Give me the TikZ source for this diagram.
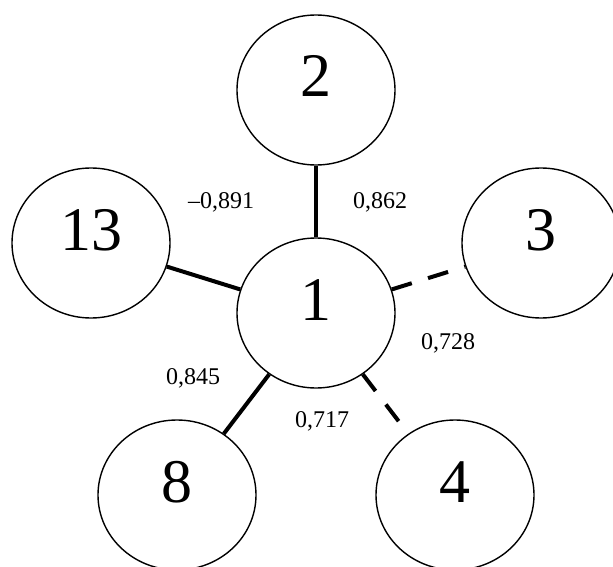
\documentclass[tikz,border=0pt]{standalone}
\usepackage{fontspec}
\setmainfont{Liberation Serif}
\usetikzlibrary{shapes.geometric}

\tikzset{
  vertex/.style={draw, ellipse, line width=1.4pt, minimum width=158pt, minimum height=150pt,
    inner sep=0pt, font=\fontsize{62}{62}\selectfont, text height=42pt, text depth=28pt},
  link/.style={line width=4pt},
  dlink/.style={line width=4pt, dash pattern=on 21pt off 17pt},
  weight/.style={font=\fontsize{24}{24}\selectfont, inner sep=0pt}
}

\begin{document}
\begin{tikzpicture}[x=1pt, y=-1pt]

    \useasboundingbox (0,0) rectangle (613,567);
    \clip (0,0) rectangle (613,567);

    % Nodes
    \node[vertex] (one) at (316,313) {1}; % centre
    \node[vertex] (two) at (316,90) {2}; % top
    \node[vertex] (three) at (541,243) {3}; % right
    \node[vertex] (four) at (455,495) {4}; % bottom right
    \node[vertex] (eight) at (177,495) {8}; % bottom left
    \node[vertex] (thirteen) at (91,243) {13}; % left

    % Edges
    \draw[link] (one) -- (two); % solid
    \draw[link] (one) -- (thirteen); % solid
    \draw[link] (one) -- (eight); % solid
    \draw[dlink] (one) -- (three); % dashed
    \draw[dlink] (one) -- (four); % dashed

    % Weights
    \node[weight] (w13) at (221,202) {--0,891};
    \node[weight] (w2) at (380,202) {0,862};
    \node[weight] (w3) at (448,343) {0,728};
    \node[weight] (w8) at (193,378) {0,845};
    \node[weight] (w4) at (322,421) {0,717};

\end{tikzpicture}
\end{document}
